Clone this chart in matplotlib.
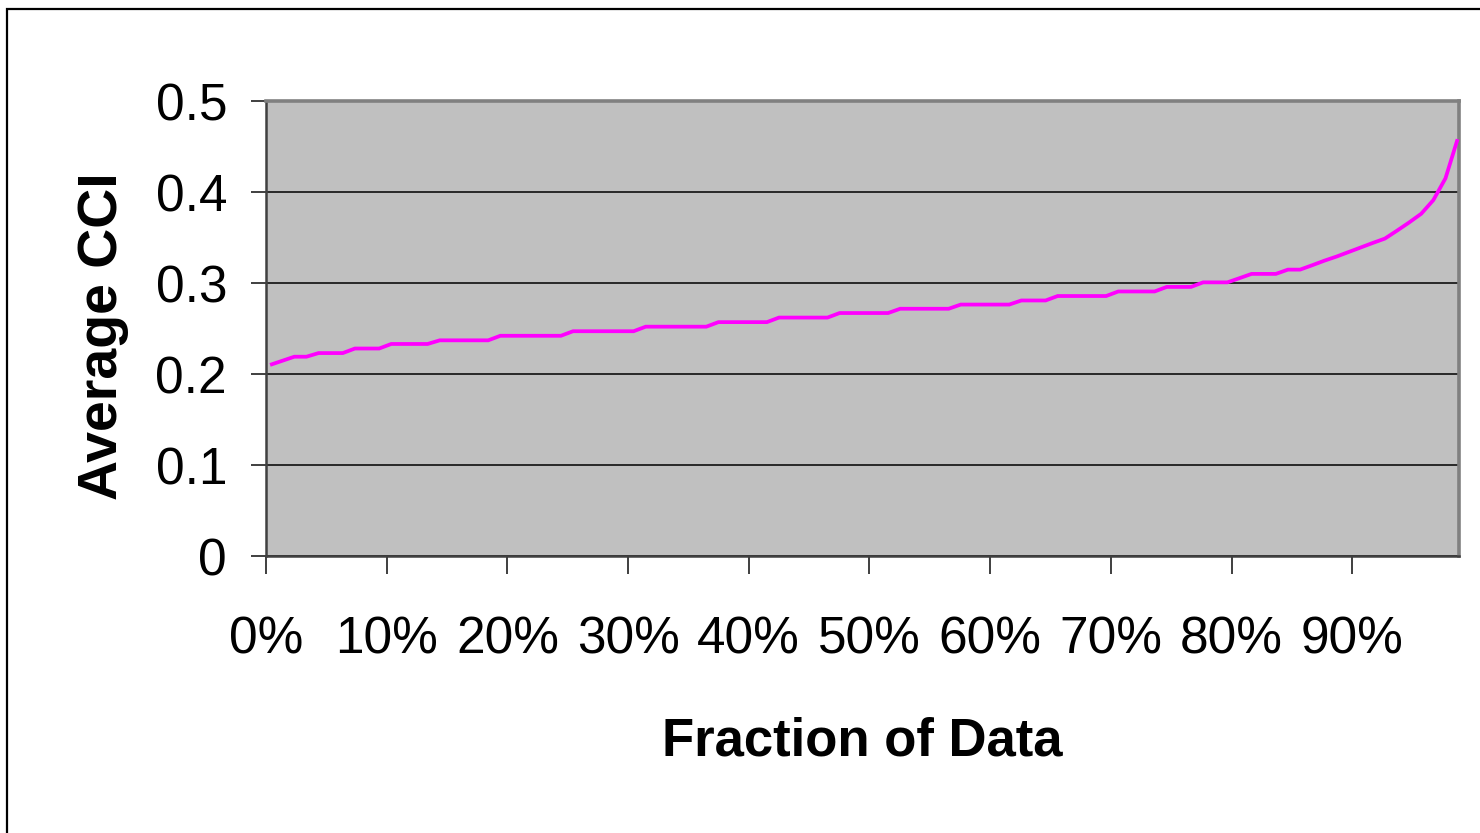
import numpy as np
import matplotlib
matplotlib.use("Agg")
import matplotlib.pyplot as plt
from matplotlib.patches import Rectangle

# ---- data ----
avg_cci = [
    0.210, 0.2145, 0.219, 0.219, 0.223, 0.223, 0.223, 0.228, 0.228, 0.228,
    0.233, 0.233, 0.233, 0.233, 0.237, 0.237, 0.237, 0.237, 0.237, 0.242,
    0.242, 0.242, 0.242, 0.242, 0.242, 0.247, 0.247, 0.247, 0.247, 0.247,
    0.247, 0.252, 0.252, 0.252, 0.252, 0.252, 0.252, 0.257, 0.257, 0.257,
    0.257, 0.257, 0.262, 0.262, 0.262, 0.262, 0.262, 0.267, 0.267, 0.267,
    0.267, 0.267, 0.2717, 0.2717, 0.2717, 0.2717, 0.2717, 0.2763, 0.2763, 0.2763,
    0.2763, 0.2763, 0.2808, 0.2808, 0.2808, 0.2857, 0.2857, 0.2857, 0.2857, 0.2857,
    0.2907, 0.2907, 0.2907, 0.2907, 0.2957, 0.2957, 0.2957, 0.3007, 0.3007, 0.3007,
    0.3053, 0.310, 0.310, 0.310, 0.3147, 0.3147, 0.3195, 0.3245, 0.329, 0.334,
    0.339, 0.344, 0.3488, 0.3575, 0.3665, 0.3761, 0.3911, 0.415, 0.458,
]
x_tick_values = [0, 10, 20, 30, 40, 50, 60, 70, 80, 90]
x_tick_labels = ["0%", "10%", "20%", "30%", "40%", "50%", "60%", "70%", "80%", "90%"]
y_tick_values = [0, 0.1, 0.2, 0.3, 0.4, 0.5]
y_tick_labels = ["0", "0.1", "0.2", "0.3", "0.4", "0.5"]
x_label = "Fraction of Data"
y_label = "Average CCI"

# position of each data point along the "fraction of data" axis (percent)
pct = 0.34 + 1.004 * np.arange(len(avg_cci))

plt.rcParams['font.family'] = ['Liberation Sans', 'DejaVu Sans']

W, H = 1480, 833
fig = plt.figure(figsize=(W / 100, H / 100), dpi=100)
fig.patch.set_facecolor("white")

# outer chart-area border (cropped at right and bottom)
fig.patches.append(Rectangle((7 / W, -0.05), 1.1, 1 - 9 / H + 0.05,
                             transform=fig.transFigure, fill=False,
                             edgecolor="black", linewidth=1.6, zorder=0))

L, R, T, B = 266, 1459, 101, 556
ax = fig.add_axes([L / W, 1 - B / H, (R - L) / W, (B - T) / H])
ax.set_facecolor("#C0C0C0")

ax.plot(pct, avg_cci, color="#FF00FF", linewidth=2.7, solid_joinstyle="miter",
        solid_capstyle="butt", zorder=3, clip_on=False)

ax.set_xlim(0, 98.85)
ax.set_ylim(0, 0.5)
ax.set_xticks(x_tick_values)
ax.set_xticklabels(x_tick_labels)
ax.set_yticks(y_tick_values)
ax.set_yticklabels(y_tick_labels)

ax.grid(axis="y", color="black", linewidth=1.1, zorder=1)
ax.set_axisbelow(True)

for s in ["top", "right"]:
    ax.spines[s].set_color("#808080")
    ax.spines[s].set_linewidth(2.6)
for s in ["left", "bottom"]:
    ax.spines[s].set_color("#404040")
    ax.spines[s].set_linewidth(1.8)

ax.tick_params(axis="y", direction="out", length=11, width=1.3, color="#303030",
               pad=17, labelsize=37)
ax.tick_params(axis="x", direction="out", length=13, width=1.3, color="#303030",
               pad=30, labelsize=37)

ax.set_xlabel(x_label, fontsize=38, fontweight="bold", labelpad=37)
ax.set_ylabel(y_label, fontsize=40, fontweight="bold", labelpad=19)
ax.yaxis.label.set_y(0.483)

fig.savefig("out.png", dpi=100)
